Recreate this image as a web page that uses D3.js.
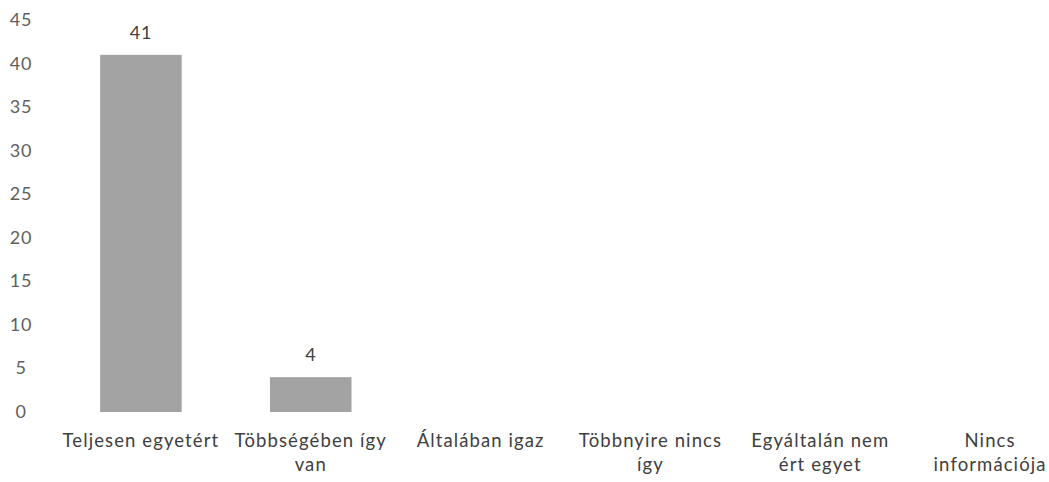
<!DOCTYPE html>
<html>
<head>
<meta charset="utf-8">
<script src="https://cdn.jsdelivr.net/npm/d3@7.9.0/dist/d3.min.js"></script>
<style>
  body { margin: 0; background: #fff; }
  svg text { font-family: Lato, "Open Sans", sans-serif; }
</style>
</head>
<body>
<svg id="chart" width="1049" height="482"></svg>
<script>
// chart data
const categories = [
    ["Teljesen egyetért"],
    ["Többségében így", "van"],
    ["Általában igaz"],
    ["Többnyire nincs", "így"],
    ["Egyáltalán nem", "ért egyet"],
    ["Nincs", "információja"]
];
const values = [41, 4, 0, 0, 0, 0];
const yTicks = [0, 5, 10, 15, 20, 25, 30, 35, 40, 45];

const svg = d3.select("#chart");

let x = d3.scaleBand()
    .domain(d3.range(categories.length))
    .range([56, 1075])
    .paddingInner(0.52)
    .paddingOuter(0.26);

let y = d3.scaleLinear().domain([0, 45]).range([412, 20]);

// y axis labels
svg.append("g")
    .selectAll("text")
    .data(yTicks)
    .enter()
    .append("text")
    .attr("x", 21)
    .attr("y", d => y(d) + 6)
    .attr("text-anchor", "middle")
    .attr("fill", "#606060")
    .attr("font-size", 18)
    .attr("letter-spacing", 0.8)
    .text(d => d);

// bars
svg.append("g")
    .selectAll("rect")
    .data(values.map((v, i) => ({ v, i })).filter(d => d.v > 0))
    .enter()
    .append("rect")
    .attr("x", d => x(d.i))
    .attr("y", d => y(d.v))
    .attr("width", x.bandwidth())
    .attr("height", d => y(0) - y(d.v))
    .attr("fill", "#a3a3a3");

// value labels
svg.append("g")
    .selectAll("text")
    .data(values.map((v, i) => ({ v, i })).filter(d => d.v > 0))
    .enter()
    .append("text")
    .attr("x", d => x(d.i) + x.bandwidth() / 2)
    .attr("y", d => y(d.v) - 16)
    .attr("text-anchor", "middle")
    .attr("fill", "#404040")
    .attr("font-size", 18)
    .attr("letter-spacing", 0.8)
    .text(d => d.v);

// category labels
let catLabels = svg.append("g")
    .selectAll("text")
    .data(categories)
    .enter()
    .append("text")
    .attr("x", (d, i) => x(i) + x.bandwidth() / 2)
    .attr("y", 447)
    .attr("text-anchor", "middle")
    .attr("fill", "#404040")
    .attr("font-size", 18.5)
    .attr("letter-spacing", 1.1);

catLabels.selectAll("tspan")
    .data(d => d)
    .enter()
    .append("tspan")
    .attr("x", function () { return d3.select(this.parentNode).attr("x"); })
    .attr("dy", (d, i) => i === 0 ? 0 : 24)
    .text(d => d);
</script>
</body>
</html>
